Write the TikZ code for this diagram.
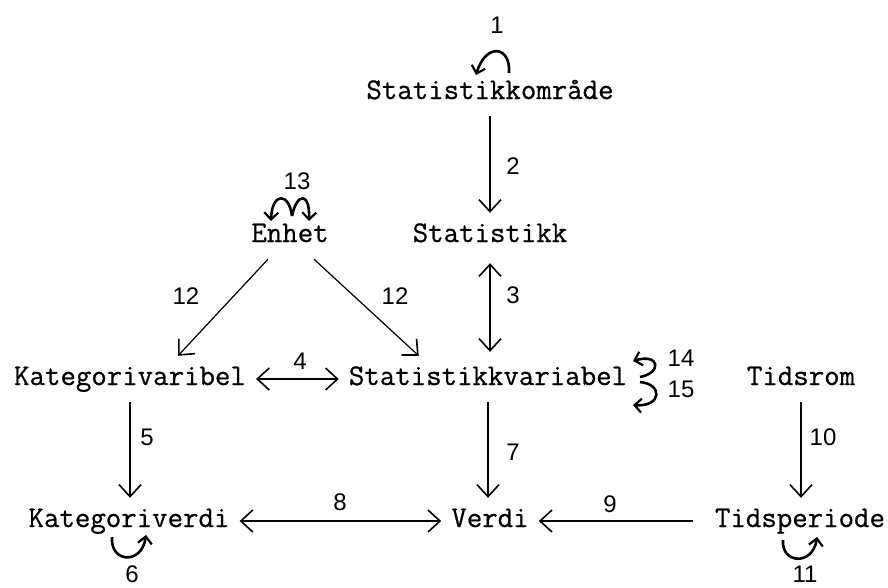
\documentclass[tikz,border=0pt]{standalone}
\usepackage{fontspec}
\newfontfamily\typew{Latin Modern Mono}[FakeBold=0.7]
\newfontfamily\numf{Liberation Sans}
\usetikzlibrary{arrows.meta,calc}
\begin{document}
\begin{tikzpicture}[x=1pt,y=-1pt,
  term/.style={font=\typew\fontsize{30}{34}\selectfont, inner xsep=10pt, inner ysep=0pt,
               minimum height=46pt, text height=17pt, text depth=5pt},
  num/.style={font=\numf\fontsize{24}{28}\selectfont, inner sep=0pt},
  conn/.style={line width=1.2pt, arrows={-}, >={Straight Barb[length=12pt,width=22pt,line width=1.6pt]}},
  loopy/.style={line width=2.6pt, -{Straight Barb[length=7pt,width=14pt,line width=2.2pt]}}]
\useasboundingbox (0,0) rectangle (888,587);
\fill[white] (0,0) rectangle (888,587);

% terms
\node[term] (so) at (490,93)  {Statistikkområde};
\node[term] (st) at (490,236) {Statistikk};
\node[term] (en) at (290,236) {Enhet};
\node[term] (kv) at (130,379) {Kategorivaribel};
\node[term] (sv) at (488,379) {Statistikkvariabel};
\node[term] (tr) at (801,379) {Tidsrom};
\node[term] (kd) at (129,521) {Kategoriverdi};
\node[term] (ve) at (490,521) {Verdi};
\node[term] (tp) at (800,521) {Tidsperiode};

% relations
\draw[conn,->] (so.south) -- (so.south |- st.north);
\draw[conn,<->,shorten <=4pt,shorten >=4pt] (st.south) -- (st.south |- sv.north);
\draw[conn,<->] (kv.east) -- (sv.west);
\draw[conn,->] (kv.south) -- (kv.south |- kd.north);
\draw[conn,->] (sv.south) -- (sv.south |- ve.north);
\draw[conn,<->] (kd.east) -- (ve.west);
\draw[conn,->,shorten <=12pt] (tp.west) -- (ve.east);
\draw[conn,->] (tr.south) -- (tr.south |- tp.north);
\draw[conn,->] ($(en.south)+(-22,0)$) -- ($(kv.north)+(48,0)$);
\draw[conn,->] ($(en.south)+(24,0)$) -- ($(sv.north west)+(80,0)$);

% self relations
\draw[loopy] ($(so)+(19,-20)$) .. controls ($(so)+(21,-47)$) and ($(so)+(-4,-51)$) .. ($(so)+(-14,-18)$);
\draw[loopy] ($(en)+(2,-20)$) .. controls ($(en)+(-1,-44)$) and ($(en)+(-18,-44)$) .. ($(en)+(-19,-15)$);
\draw[loopy] ($(en)+(2,-20)$) .. controls ($(en)+(7,-44)$) and ($(en)+(20,-44)$) .. ($(en)+(19,-15)$);
\draw[loopy] ($(sv)+(152,-2)$) .. controls ($(sv)+(174,-6)$) and ($(sv)+(172,-26)$) .. ($(sv)+(145,-18)$);
\draw[loopy] ($(sv)+(152,3)$) .. controls ($(sv)+(175,5)$) and ($(sv)+(174,28)$) .. ($(sv)+(145,26)$);
\draw[loopy] ($(kd)+(-17,16)$) .. controls ($(kd)+(-19,42)$) and ($(kd)+(13,44)$) .. ($(kd)+(17,14)$);
\draw[loopy] ($(tp)+(-17,19)$) .. controls ($(tp)+(-19,43)$) and ($(tp)+(13,45)$) .. ($(tp)+(17,16)$);

% relation numbers
\node[num] (n1)  at (497,25)  {1};
\node[num] (n2)  at (513,166) {2};
\node[num] (n3)  at (513,295) {3};
\node[num] (n4)  at (300,361) {4};
\node[num] (n5)  at (147,437) {5};
\node[num] (n6)  at (132,574) {6};
\node[num] (n7)  at (513,452) {7};
\node[num] (n8)  at (340,502) {8};
\node[num] (n9)  at (610,504) {9};
\node[num] (n10) at (823,437) {10};
\node[num] (n11) at (805,574) {11};
\node[num] (n12a) at (186,296) {12};
\node[num] (n12b) at (395,296) {12};
\node[num] (n13) at (297,181) {13};
\node[num] (n14) at (681,358) {14};
\node[num] (n15) at (681,389) {15};
\end{tikzpicture}
\end{document}
